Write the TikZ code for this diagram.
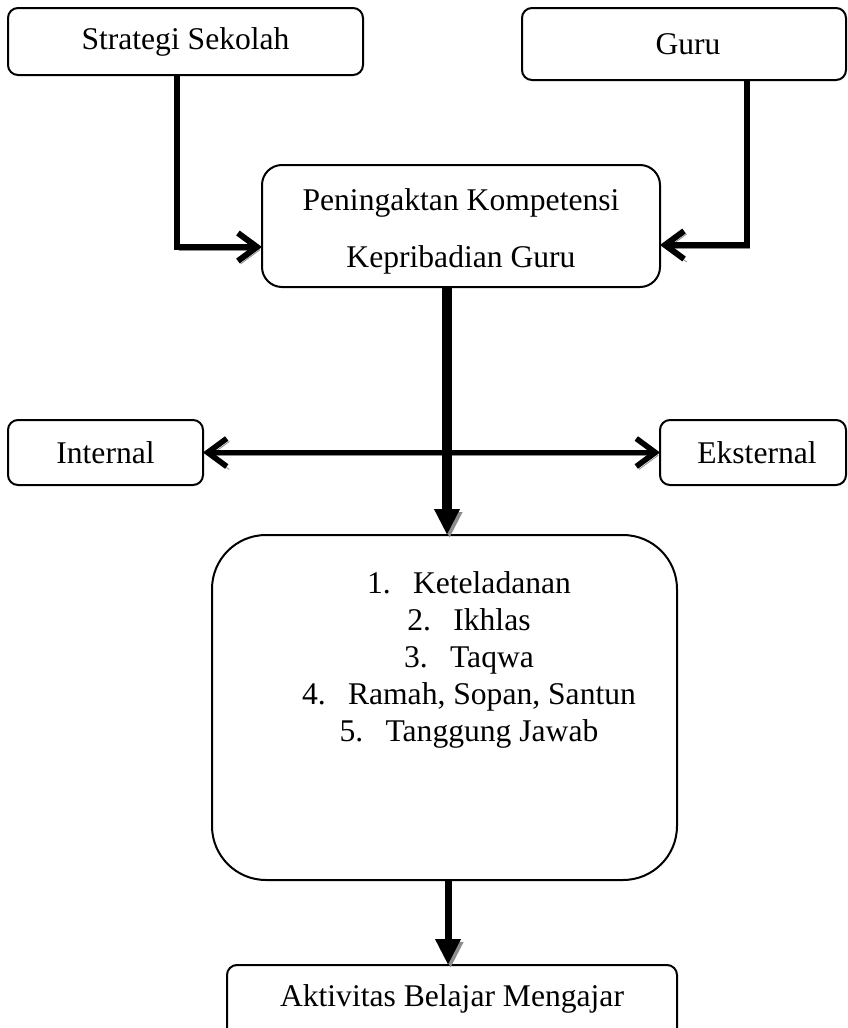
\documentclass[tikz,border=0pt]{standalone}
\usepackage{fontspec}
\setmainfont{Liberation Serif}
\usetikzlibrary{arrows.meta}
\begin{document}
\begin{tikzpicture}[x=0.5pt,y=-0.5pt,
  txt/.style={font=\fontsize{15.8}{18.6}\selectfont},
  box/.style={draw, line width=1pt, rounded corners=5pt, inner sep=0pt, outer sep=0pt, align=center, txt},
  shad/.style={preaction={draw=black!45, transform canvas={shift={(1.3pt,-1.5pt)}}}},
  barb/.style={line width=3pt, shad, -{Straight Barb[length=9.5pt,width=14pt]}},
  dbl/.style={line width=2.8pt, shad, {Straight Barb[length=9.5pt,width=14pt]}-{Straight Barb[length=9.5pt,width=14pt]}},
  tri/.style={shad, -{Triangle[length=13pt,width=12pt]}}
]
\useasboundingbox (0,0) rectangle (847,1028);

\node[box, minimum width=177.5pt, minimum height=33.5pt] (str) at (185.5,41.5) {Strategi Sekolah};
\node[box, minimum width=162pt, minimum height=36pt] (guru) at (684,44) {\hspace*{4pt}Guru};
\node[box, rounded corners=10pt, minimum width=199pt, minimum height=61pt] (pen) at (461,226) {};
\node[txt, align=center, inner sep=0pt, font=\fontsize{15.8}{28.5}\selectfont] (pentxt) at (461,231) {Peningaktan Kompetensi\\Kepribadian Guru};
\node[box, minimum width=97.5pt, minimum height=32.5pt] (int) at (105.5,452.5) {Internal};
\node[box, minimum width=93pt, minimum height=32.5pt] (eks) at (753,452.5) {\hspace*{4pt}Eksternal};
\node[box, rounded corners=27pt, minimum width=232.5pt, minimum height=172.5pt] (lst) at (444.5,707.5) {};
\node[txt, align=center, inner sep=0pt] (lsttxt) at (469,660) {%
\makebox[23pt][l]{1.}Keteladanan\\
\makebox[23pt][l]{2.}Ikhlas\\
\makebox[23pt][l]{3.}Taqwa\\
\makebox[23pt][l]{4.}Ramah, Sopan, Santun\\
\makebox[23pt][l]{5.}Tanggung Jawab};
\node[box, minimum width=225pt, minimum height=40pt, text depth=9pt] (akt) at (452,1005) {Aktivitas Belajar Mengajar};

\coordinate (sl) at (177,247);
\draw[barb] (str.south -| sl) -- (sl) -- (pen.west |- sl);
\coordinate (gl) at (747,245);
\draw[barb] (guru.south -| gl) -- (gl) -- (pen.east |- gl);
\draw[dbl] (int.east) -- (eks.west);
\coordinate (cx) at (447,0);
\draw[tri, line width=5pt] (pen.south -| cx) -- (lst.north -| cx);
\coordinate (bx) at (448,0);
\draw[tri, line width=3.5pt] (lst.south -| bx) -- (akt.north -| bx);
\end{tikzpicture}
\end{document}
